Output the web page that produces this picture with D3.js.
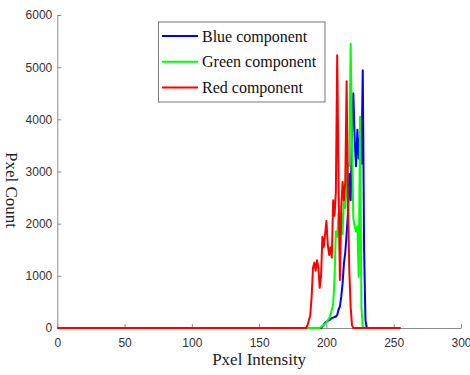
<!DOCTYPE html>
<html><head><meta charset="utf-8">
<script src="https://cdn.jsdelivr.net/npm/d3@7"></script>
<style>
html,body{margin:0;padding:0;background:#fff;}
svg{display:block;}
</style></head>
<body>
<svg id="chart" width="470" height="375"></svg>
<script>
// ---- data ----
const intensityMax = 255;               // histogram bins 0..255
const xTicks = [0, 50, 100, 150, 200, 250, 300];
const yTicks = [0, 1000, 2000, 3000, 4000, 5000, 6000];
const seriesNames = ["Blue component", "Green component", "Red component"];
const seriesColors = ["#0000ff", "#00ff00", "#ff0000"];

// non-zero regions (all other bins are 0)
const blueStart = 196;
const blueValues = [0, 30, 60, 100, 120, 140, 150, 170, 190, 200, 210, 220, 250, 350, 410, 600,
  850, 1240, 1450, 1800, 2200, 2950, 2450, 3750, 4500, 3600, 3100, 3800, 3250, 3700, 3150, 4940,
  1500, 150, 0];
const greenStart = 195;
const greenValues = [0, 20, 40, 60, 80, 100, 150, 180, 250, 350, 450, 950, 1850, 1750, 2200, 1450,
  2200, 1800, 2500, 2300, 2700, 3150, 3100, 5450, 3500, 2100, 1950, 1850, 1950, 980, 4050, 400, 0];
const redStart = 185;
const redValues = [0, 60, 150, 250, 600, 1150, 1250, 1100, 1300, 1150, 770, 1000, 1750, 1550, 1800,
  2050, 1600, 1400, 1550, 1350, 2450, 2150, 2600, 5230, 2800, 920, 2300, 2800, 2450, 2800, 4730,
  2400, 1100, 400, 50, 0];

function fullSeries(start, vals) {
  return d3.range(0, intensityMax + 1).map(i => {
    const k = i - start;
    return [i, (k >= 0 && k < vals.length) ? vals[k] : 0];
  });
}
const series = [
  fullSeries(blueStart, blueValues),
  fullSeries(greenStart, greenValues),
  fullSeries(redStart, redValues)
];

// ---- layout ----
const svg = d3.select("#chart");
const x0 = 57.3, x1 = 461, yTop = 15, yBot = 328;
const x = d3.scaleLinear().domain([0, 300]).range([x0, x1]);
const y = d3.scaleLinear().domain([0, 6000]).range([yBot, yTop]);

// axes
const gx = svg.append("g").attr("transform", `translate(0,${yBot})`)
  .call(d3.axisBottom(x).tickValues(xTicks).tickFormat(d3.format("d")).tickSizeInner(-4).tickSizeOuter(0).tickPadding(10.5));
const gy = svg.append("g").attr("transform", `translate(${x0},0)`)
  .call(d3.axisLeft(y).tickValues(yTicks).tickFormat(d3.format("d")).tickSizeInner(-4).tickSizeOuter(0).tickPadding(5));
[gx, gy].forEach(g => {
  g.select(".domain").attr("stroke", "#8c8c8c").attr("stroke-width", 1);
  g.selectAll(".tick line").attr("stroke", "#8c8c8c");
  g.selectAll(".tick text").attr("fill", "#333").style("font-family", "'Liberation Sans', Arial, sans-serif").style("font-size", "12px");
});

// lines
const line = d3.line().x(d => x(d[0])).y(d => y(d[1]));
svg.append("g").selectAll("path").data(series).join("path")
  .attr("d", line).attr("fill", "none")
  .attr("stroke", (d, i) => seriesColors[i])
  .attr("stroke-width", 2).attr("stroke-linejoin", "round");

// axis titles
svg.append("text").attr("x", (x0 + x1) / 2).attr("y", 365).attr("text-anchor", "middle")
  .style("font-family", "'Liberation Serif', 'Times New Roman', serif").style("font-size", "17px")
  .attr("fill", "#222").text("Pxel Intensity");
svg.append("text").attr("transform", "translate(6,190) rotate(90)").attr("text-anchor", "middle")
  .style("font-family", "'Liberation Serif', 'Times New Roman', serif").style("font-size", "17px")
  .attr("fill", "#222").text("Pxel Count");

// legend
const lg = svg.append("g");
lg.append("rect").attr("x", 158.5).attr("y", 22).attr("width", 166.5).attr("height", 80)
  .attr("fill", "#fff").attr("stroke", "#777").attr("stroke-width", 1);
seriesNames.forEach((name, i) => {
  const cy = 36 + i * 25.7;
  lg.append("line").attr("x1", 162).attr("x2", 198).attr("y1", cy).attr("y2", cy)
    .attr("stroke", seriesColors[i]).attr("stroke-width", 2);
  lg.append("text").attr("x", 202).attr("y", cy + 5.5)
    .style("font-family", "'Liberation Serif', 'Times New Roman', serif").style("font-size", "16px")
    .attr("fill", "#111").text(name);
});
</script>
</body></html>
